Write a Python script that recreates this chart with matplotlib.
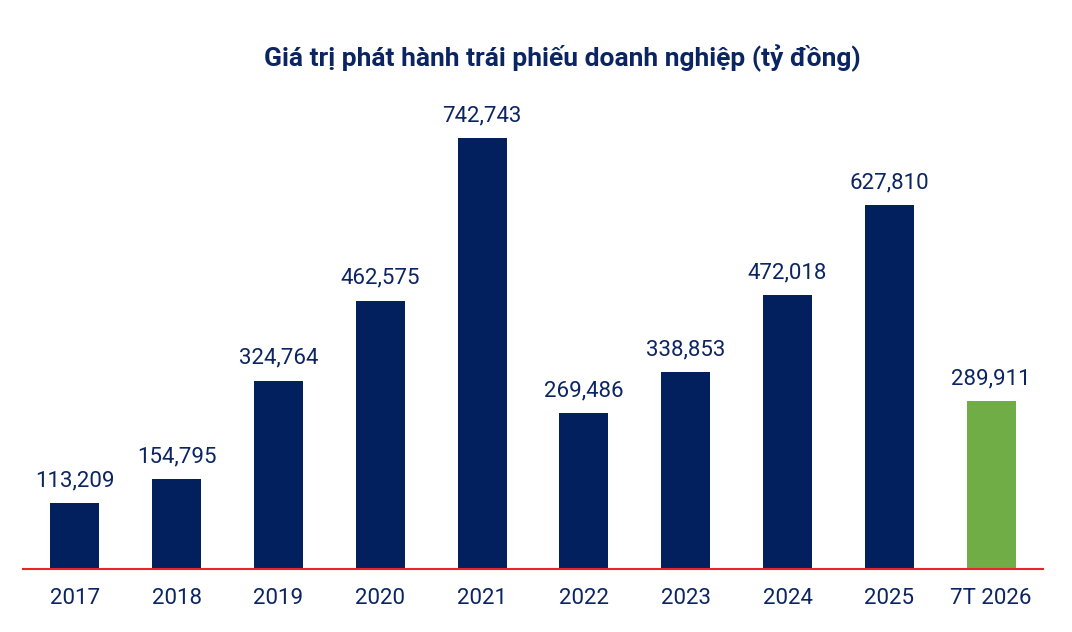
import matplotlib.pyplot as plt

plt.rcParams['font.family'] = ['Roboto', 'DejaVu Sans']

# ── Data ─────────────────────────────────────────────────────────────────────
categories = ['2017', '2018', '2019', '2020', '2021', '2022', '2023', '2024', '2025', '7T 2026']
values = [113209, 154795, 324764, 462575, 742743, 269486, 338853, 472018, 627810, 289911]

navy = '#03205E'
green = '#70AD47'
text_color = '#0B2462'
colors = [navy] * (len(values) - 1) + [green]

# ── Figure ───────────────────────────────────────────────────────────────────
W, H = 1072, 632
fig = plt.figure(figsize=(W / 100, H / 100), dpi=100)
ax = fig.add_axes([23 / W, (H - 569) / H, (1043 - 23) / W, (569 - 90) / H])

x = range(len(categories))
ax.bar(x, values, width=0.48, color=colors)

ax.set_xlim(-0.51, len(categories) - 0.49)
ax.set_ylim(0, 742743 * (569 - 90) / 431)

for xi, v in zip(x, values):
    ax.annotate(f'{v:,}', (xi, v), xytext=(0, 12), textcoords='offset points',
                ha='center', va='baseline', fontsize=16, color=text_color)

ax.set_xticks(list(x))
ax.set_xticklabels(categories, fontsize=16, color=text_color)
ax.tick_params(axis='x', length=0, pad=13.5)
ax.set_yticks([])
for s in ['top', 'right', 'left']:
    ax.spines[s].set_visible(False)
ax.spines['bottom'].set_color('#E8262A')
ax.spines['bottom'].set_linewidth(1.5)

fig.text(562 / W, 1 - 66 / H, 'Giá trị phát hành trái phiếu doanh nghiệp (tỷ đồng)',
         ha='center', va='baseline', fontsize=19, fontweight='bold', color=text_color)

fig.savefig('out.png', dpi=100)
